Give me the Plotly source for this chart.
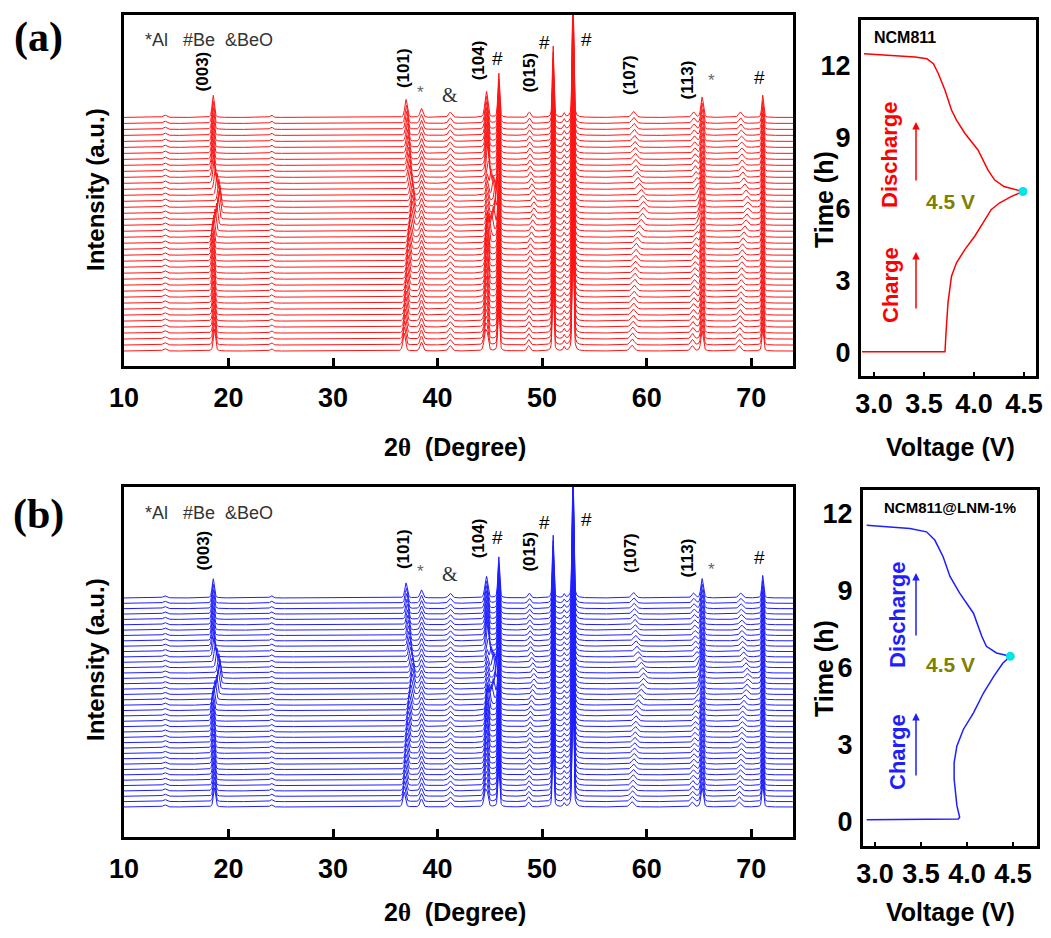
import numpy as np
import plotly.graph_objects as go

W, H = 1051, 938
N_SCANS = 40

# ---------------- XRD peak tables (2theta, deg) ----------------
peak_pos = [13.9, 18.65, 24.1, 36.8, 38.45, 41.2, 44.55, 44.75, 45.85, 48.7,
            51.05, 52.1, 52.95, 58.6, 64.35, 65.3, 68.85, 71.1]
peak_fwhm = [0.4, 0.24, 0.3, 0.27, 0.3, 0.35, 0.27, 0.25, 0.2, 0.3,
             0.17, 0.2, 0.17, 0.45, 0.35, 0.27, 0.4, 0.2]
peak_h_a = [0.4, 3.7, 0.4, 3.0, 1.5, 0.9, 3.0, 2.4, 7.4, 0.9,
            12.0, 0.7, 22.0, 1.0, 0.9, 3.4, 0.9, 3.7]
peak_h_b = [0.4, 3.6, 0.4, 2.8, 1.5, 0.9, 2.8, 2.2, 7.7, 0.9,
            11.8, 0.7, 26.0, 1.0, 0.9, 3.6, 0.9, 4.2]
# shift amplitudes (deg) along slow profile s and H2-H3 profile q
peak_shift_s = [0, 0, 0, 0.6, 0, 0, 0.2, 0, 0, 0.2,
                0, 0, 0, 0.5, 0.4, 0, 0.4, 0]
peak_shift_q = [0, 0, 0, 0.2, 0, 0, 0.9, 0, 0, 0.3,
                0, 0, 0, 0.6, 0.4, 0, 0.4, 0]
IDX_003 = 1

# per-scan profiles (scan 0 = start of charge, scan 39 = end of discharge)
prof_s = [0.0, 0.04, 0.09, 0.14, 0.19, 0.23, 0.27, 0.31, 0.35, 0.40,
          0.45, 0.50, 0.55, 0.60, 0.65, 0.70, 0.75, 0.80, 0.84, 0.88,
          0.92, 0.96, 0.99, 1.0, 1.0, 0.97, 0.93, 0.88, 0.83, 0.79,
          0.75, 0.70, 0.65, 0.60, 0.55, 0.50, 0.45, 0.40, 0.35, 0.30]
prof_q = [0, 0, 0, 0, 0, 0, 0, 0, 0, 0,
          0, 0, 0, 0, 0, 0, 0, 0, 0.1, 0.25,
          0.45, 0.65, 0.85, 1.0, 1.0, 0.9, 0.7, 0.45, 0.25, 0.1,
          0, 0, 0, 0, 0, 0, 0, 0, 0, 0]
shift_003 = [0.0, -0.01, -0.02, -0.03, -0.04, -0.05, -0.06, -0.07, -0.08, -0.09,
             -0.10, -0.11, -0.12, -0.13, -0.14, -0.15, -0.16, -0.17, -0.15, -0.08,
             0.05, 0.2, 0.35, 0.45, 0.5, 0.42, 0.25, 0.08, -0.05, -0.12,
             -0.15, -0.16, -0.16, -0.15, -0.15, -0.14, -0.14, -0.13, -0.13, -0.12]

# ---------------- charge/discharge curves ----------------
volt_a = [2.88, 3.71, 3.72, 3.74, 3.775, 3.825, 3.908, 4.007, 4.089, 4.171, 4.254, 4.37, 4.49,
          4.30, 4.205, 4.139, 4.04, 3.91, 3.825, 3.775, 3.71, 3.644, 3.594, 3.528, 3.41, 3.18, 2.90]
time_a = [0.01, 0.01, 0.8, 2.07, 3.18, 3.74, 4.29, 4.85, 5.40, 5.96, 6.24, 6.51, 6.72,
          6.93, 7.21, 7.63, 8.46, 9.15, 9.71, 10.13, 10.96, 11.65, 12.07, 12.28, 12.35, 12.42, 12.49]
volt_b = [2.91, 3.40, 3.905, 3.92, 3.89, 3.86, 3.86, 3.89, 3.96, 4.07, 4.18, 4.29, 4.39, 4.47,
          4.32, 4.21, 4.16, 4.07, 3.92, 3.815, 3.74, 3.65, 3.56, 3.38, 2.91]
time_b = [0.05, 0.06, 0.08, 0.15, 0.6, 1.63, 2.28, 2.93, 3.57, 4.22, 5.0, 5.64, 6.16, 6.42,
          6.55, 6.81, 7.2, 8.1, 8.88, 9.53, 10.3, 10.95, 11.27, 11.4, 11.53]
dot_a = (4.49, 6.72)
dot_b = (4.47, 6.42)

x_grid = np.arange(10.0, 74.0001, 0.02)


def pattern(scan, heights):
    y = np.full_like(x_grid, float(scan))
    for k, (c, w, h) in enumerate(zip(peak_pos, peak_fwhm, heights)):
        if k == IDX_003:
            c = c + shift_003[scan]
        else:
            c = c + peak_shift_s[k] * prof_s[scan] + peak_shift_q[k] * prof_q[scan]
        d = (x_grid - c) / w
        lor = 1.0 / (1.0 + 4.0 * d * d)
        gau = np.exp(-4.0 * np.log(2) * d * d)
        y += h * (0.4 * lor + 0.6 * gau)
    return y


fig = go.Figure()
RED = "rgb(255,20,20)"
BLUE = "rgb(30,30,255)"
for i in range(N_SCANS):
    fig.add_trace(go.Scatter(x=x_grid, y=np.round(pattern(i, peak_h_a), 3), mode="lines",
                             line=dict(color=RED, width=1), xaxis="x", yaxis="y",
                             hoverinfo="skip", showlegend=False))
for i in range(N_SCANS):
    fig.add_trace(go.Scatter(x=x_grid, y=np.round(pattern(i, peak_h_b), 3), mode="lines",
                             line=dict(color=BLUE, width=1), xaxis="x3", yaxis="y3",
                             hoverinfo="skip", showlegend=False))

fig.add_trace(go.Scatter(x=volt_a, y=time_a, mode="lines", line=dict(color="red", width=1.5),
                         xaxis="x2", yaxis="y2", showlegend=False))
fig.add_trace(go.Scatter(x=[dot_a[0]], y=[dot_a[1]], mode="markers",
                         marker=dict(color="rgb(0,230,230)", size=9),
                         xaxis="x2", yaxis="y2", showlegend=False))
fig.add_trace(go.Scatter(x=volt_b, y=time_b, mode="lines", line=dict(color=BLUE, width=1.5),
                         xaxis="x4", yaxis="y4", showlegend=False))
fig.add_trace(go.Scatter(x=[dot_b[0]], y=[dot_b[1]], mode="markers",
                         marker=dict(color="rgb(0,230,230)", size=9),
                         xaxis="x4", yaxis="y4", showlegend=False))


def px(x):
    return x / W


def py(y):
    return 1 - y / H


FONT = "Liberation Sans, Arial, sans-serif"
frame = dict(showline=True, mirror=True, linewidth=3, linecolor="black",
             showgrid=False, zeroline=False, automargin=False)

xrd_x = dict(frame, range=[10, 74], tickvals=[10, 20, 30, 40, 50, 60, 70],
             ticks="inside", ticklen=8, tickwidth=3, tickcolor="black", tickangle=0,
             tickfont=dict(family=FONT, size=27, color="black", weight="bold"),
             ticklabelstandoff=6)
volt_x = dict(frame, tickvals=[3.0, 3.5, 4.0, 4.5], ticktext=["3.0", "3.5", "4.0", "4.5"],
              ticks="inside", ticklen=4, tickwidth=2, tickcolor="black", tickangle=0,
              tickfont=dict(family=FONT, size=27, color="black", weight="bold"),
              ticklabelstandoff=2)
time_y = dict(frame, tickvals=[0, 3, 6, 9, 12], ticks="",
              tickfont=dict(family=FONT, size=27, color="black", weight="bold"),
              ticklabelstandoff=2)

fig.update_layout(
    width=W, height=H, margin=dict(l=0, r=0, t=0, b=0, autoexpand=False),
    paper_bgcolor="white", plot_bgcolor="white",
    xaxis=dict(xrd_x, domain=[px(124), px(793)], anchor="y"),
    yaxis=dict(frame, domain=[py(366), py(15)], range=[-2.5, 56.1], showticklabels=False,
               ticks="", anchor="x"),
    xaxis2=dict(volt_x, domain=[px(861), px(1036)], range=[2.87, 4.62], anchor="y2"),
    yaxis2=dict(time_y, domain=[py(376), py(20)], range=[-1.0, 13.9], anchor="x2"),
    xaxis3=dict(xrd_x, domain=[px(124), px(793)], anchor="y3"),
    yaxis3=dict(frame, domain=[py(837), py(487)], range=[-5.6, 59.7], showticklabels=False,
                ticks="", anchor="x3"),
    xaxis4=dict(volt_x, domain=[px(863), px(1037)], range=[2.87, 4.76], anchor="y4"),
    yaxis4=dict(time_y, domain=[py(846), py(490)], range=[-0.97, 12.9], anchor="x4"),
)

ann = []


def text(t, x, y, size, color="black", bold=True, angle=0, family=FONT, xref="paper"):
    ann.append(dict(text=t, x=x if xref != "paper" else px(x), y=py(y), xref=xref, yref="paper",
                    showarrow=False, textangle=angle, xanchor="center", yanchor="middle",
                    font=dict(family=family, size=size, color=color,
                              weight="bold" if bold else "normal")))


def arrow(x, y_head, y_tail, color):
    ann.append(dict(text="", x=px(x), y=py(y_head), xref="paper", yref="paper",
                    ax=0, ay=y_tail - y_head, showarrow=True, arrowhead=2, arrowsize=1,
                    arrowwidth=1.5, arrowcolor=color))


SERIF = "Liberation Serif, Times New Roman, serif"
THETA = '2<span style="font-family:Liberation Serif">θ</span>  (Degree)'

# panel letters
text("(a)", 38, 37, 42, family=SERIF)
text("(b)", 38, 514, 42, family=SERIF)

# axis titles
text("Intensity (a.u.)", 95, 190, 24, angle=-90)
text("Intensity (a.u.)", 95, 660, 24, angle=-90)
text(THETA, 455, 447, 25)
text(THETA, 455, 912, 25)
text("Voltage (V)", 950, 447, 25)
text("Voltage (V)", 950, 912, 25)
text("Time (h)", 824, 200, 25, angle=-90)
text("Time (h)", 824, 669, 25, angle=-90)

# legend text
text("*Al   #Be  &BeO", 209, 40, 18, color="#333333", bold=False)
text("*Al   #Be  &BeO", 209, 513, 18, color="#333333", bold=False)

# peak labels (2theta position, y pixel in panel a / panel b)
label_txt = ["(003)", "(101)", "*", "&", "(104)", "#", "(015)", "#", "#", "(107)", "(113)", "*", "#"]
label_2t = [17.6, 36.7, 38.4, 41.2, 43.9, 45.7, 48.7, 50.2, 54.2, 58.4, 63.9, 66.2, 70.8]
label_ya = [71, 68, 92, 95, 60, 58, 73, 42, 40, 75, 80, 80, 78]
label_yb = [550, 549, 571, 574, 538, 537, 552, 522, 519, 553, 558, 569, 557]
for t, x2, ya, yb in zip(label_txt, label_2t, label_ya, label_yb):
    rot = -90 if t.startswith("(") else 0
    if t == "*":
        kw = dict(size=17, color="#666666", bold=False)
    elif t == "&":
        kw = dict(size=20, color="#333333", bold=False, family=SERIF)
    elif t == "#":
        kw = dict(size=19, color="black", bold=False)
    else:
        kw = dict(size=17, color="black", bold=True)
    text(t, x2, ya, angle=rot, xref="x", **kw)
    text(t, x2, yb, angle=rot, xref="x3", **kw)

# right panel annotations
text("NCM811", 905, 37, 16)
text("NCM811@LNM-1%", 950, 507, 15)
text("Discharge", 889, 155, 22, color="red", angle=-90)
text("Charge", 891, 285, 22, color="red", angle=-90)
text("Discharge", 897, 615, 22, color=BLUE, angle=-90)
text("Charge", 897, 752, 22, color=BLUE, angle=-90)
text("4.5 V", 950, 201, 21, color="#7f7f00")
text("4.5 V", 950, 664, 21, color="#7f7f00")
arrow(916, 122, 182, "red")
arrow(916, 252, 310, "red")
arrow(916, 573, 637, BLUE)
arrow(916, 713, 777, BLUE)

fig.update_layout(annotations=ann)
fig.write_html("out.html", config={"displayModeBar": False},
               post_script="document.body.style.margin='0';document.body.style.overflow='hidden';")
